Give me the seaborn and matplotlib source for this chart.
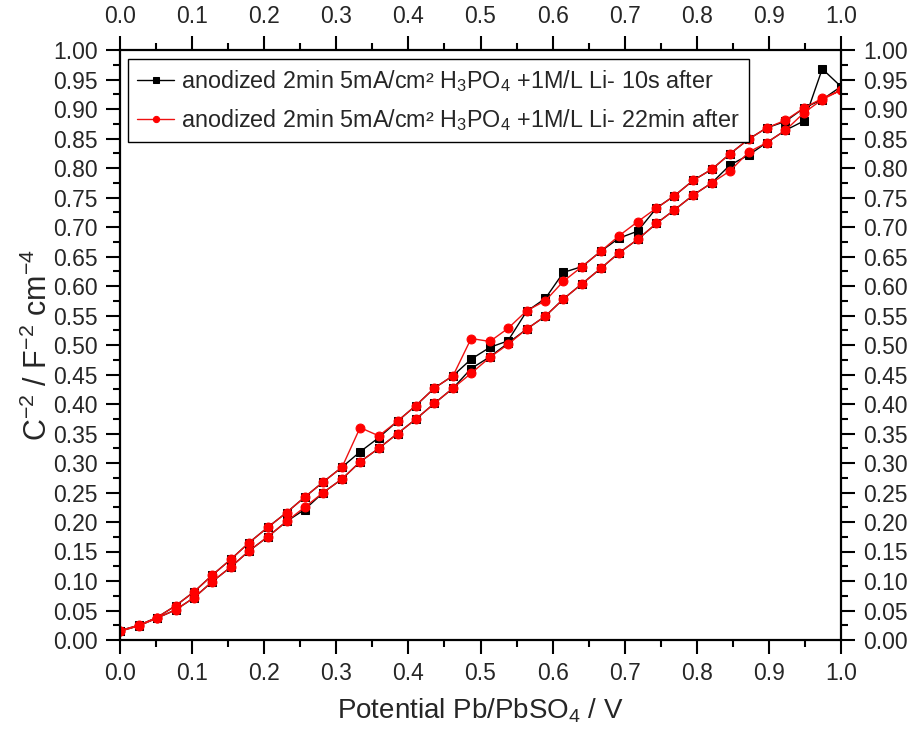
import numpy as np
import pandas as pd
import matplotlib
matplotlib.use("Agg")
import matplotlib.pyplot as plt
import seaborn as sns
from matplotlib.ticker import MultipleLocator, FormatStrFormatter

# ---------------- data ----------------
# potential on the forward (lower) branch, 0 -> 1 V
x_fwd = [0.000, 0.026, 0.051, 0.077, 0.103, 0.128, 0.154, 0.179, 0.205, 0.231,
         0.256, 0.282, 0.308, 0.333, 0.359, 0.385, 0.410, 0.436, 0.462, 0.487,
         0.513, 0.538, 0.564, 0.590, 0.615, 0.641, 0.667, 0.692, 0.718, 0.744,
         0.769, 0.795, 0.821, 0.846, 0.872, 0.897, 0.923, 0.949, 0.974, 1.000]
# potential on the backward (upper) branch, 1 -> 0 V
x_bwd = [0.974, 0.949, 0.923, 0.897, 0.872, 0.846, 0.821, 0.795, 0.769, 0.744,
         0.718, 0.692, 0.667, 0.641, 0.615, 0.590, 0.564, 0.538, 0.513, 0.487,
         0.462, 0.436, 0.410, 0.385, 0.359, 0.333, 0.308, 0.282, 0.256, 0.231,
         0.205, 0.179, 0.154, 0.128, 0.103, 0.077, 0.051, 0.026, 0.000]

# series "10s after" (black squares)
y10_fwd = [0.015, 0.024, 0.037, 0.051, 0.072, 0.099, 0.124, 0.151, 0.175, 0.201,
           0.221, 0.250, 0.273, 0.302, 0.325, 0.350, 0.374, 0.401, 0.427, 0.460,
           0.480, 0.503, 0.527, 0.549, 0.578, 0.604, 0.630, 0.656, 0.679, 0.706,
           0.729, 0.754, 0.775, 0.805, 0.822, 0.843, 0.864, 0.880, 0.968, 0.938]
y10_bwd = [0.916, 0.902, 0.879, 0.868, 0.849, 0.824, 0.798, 0.779, 0.753, 0.732,
           0.693, 0.681, 0.659, 0.633, 0.623, 0.579, 0.557, 0.507, 0.496, 0.476,
           0.448, 0.427, 0.397, 0.371, 0.343, 0.319, 0.293, 0.268, 0.242, 0.216,
           0.191, 0.165, 0.137, 0.110, 0.082, 0.058, 0.038, 0.025, 0.016]

# series "22min after" (red circles)
y22_fwd = [0.015, 0.024, 0.037, 0.051, 0.072, 0.099, 0.124, 0.151, 0.175, 0.201,
           0.225, 0.250, 0.273, 0.302, 0.325, 0.350, 0.374, 0.401, 0.427, 0.452,
           0.479, 0.501, 0.527, 0.549, 0.578, 0.604, 0.630, 0.656, 0.679, 0.706,
           0.729, 0.754, 0.775, 0.795, 0.827, 0.843, 0.864, 0.894, 0.916, 0.932]
y22_bwd = [0.918, 0.902, 0.881, 0.868, 0.849, 0.824, 0.798, 0.779, 0.753, 0.732,
           0.709, 0.685, 0.659, 0.633, 0.608, 0.575, 0.558, 0.528, 0.506, 0.511,
           0.448, 0.427, 0.397, 0.371, 0.346, 0.360, 0.293, 0.268, 0.242, 0.216,
           0.191, 0.165, 0.137, 0.110, 0.082, 0.058, 0.038, 0.025, 0.016]

label10 = "anodized 2min 5mA/cm² H$_3$PO$_4$ +1M/L Li- 10s after"
label22 = "anodized 2min 5mA/cm² H$_3$PO$_4$ +1M/L Li- 22min after"
x_ticks = [0.0, 0.1, 0.2, 0.3, 0.4, 0.5, 0.6, 0.7, 0.8, 0.9, 1.0]

# ---------------- style ----------------
sns.set_style("ticks")
plt.rcParams["font.family"] = ["Liberation Sans", "DejaVu Sans"]
plt.rcParams["mathtext.fontset"] = "custom"
plt.rcParams["mathtext.rm"] = "Liberation Sans"
plt.rcParams["mathtext.it"] = "Liberation Sans:italic"
plt.rcParams["mathtext.bf"] = "Liberation Sans:bold"
plt.rcParams["mathtext.default"] = "regular"

df10 = pd.DataFrame({"x": x_fwd + x_bwd, "y": y10_fwd + y10_bwd})
df22 = pd.DataFrame({"x": x_fwd + x_bwd, "y": y22_fwd + y22_bwd})

fig = plt.figure(figsize=(9.14, 7.41), dpi=100)
ax = fig.add_axes([120 / 914, 1 - 640 / 741, 721 / 914, 590 / 741])

sns.lineplot(data=df10, x="x", y="y", sort=False, estimator=None, ax=ax,
             color="black", linewidth=1.0, marker="s", markersize=5.8,
             markeredgecolor="black", markerfacecolor="black", label=label10)
sns.lineplot(data=df22, x="x", y="y", sort=False, estimator=None, ax=ax,
             color="#ee1111", linewidth=1.0, marker="o", markersize=6.4,
             markeredgecolor="#ff0000", markerfacecolor="#ff0000", label=label22)

ax.set_xlim(0, 1)
ax.set_ylim(0, 1)
ax.set_xticks(x_ticks)
ax.xaxis.set_minor_locator(MultipleLocator(0.05))
ax.yaxis.set_major_locator(MultipleLocator(0.05))
ax.yaxis.set_minor_locator(MultipleLocator(0.025))
ax.xaxis.set_major_formatter(FormatStrFormatter("%.1f"))
ax.yaxis.set_major_formatter(FormatStrFormatter("%.2f"))

for sp in ax.spines.values():
    sp.set_visible(True)
    sp.set_linewidth(1.6)
    sp.set_color("black")

ax.tick_params(which="both", direction="out", top=True, right=True,
               labeltop=True, labelright=True, color="black", width=1.5)
ax.tick_params(which="major", length=10, labelsize=16.5, pad=6)
ax.tick_params(which="minor", length=5)

ax.set_xlabel("Potential Pb/PbSO$_4$ / V", fontsize=20, labelpad=8)
ax.set_ylabel("C$^{-2}$ / F$^{-2}$ cm$^{-4}$", fontsize=22)
ax.yaxis.set_label_coords(-0.092, 0.5)

leg = ax.legend(loc="upper left", bbox_to_anchor=(0.004, 0.993), fontsize=16.8,
                frameon=True, fancybox=False, edgecolor="black",
                borderpad=0.4, labelspacing=0.55, handlelength=1.6,
                handletextpad=0.3, markerscale=0.7, borderaxespad=0.2)
leg.get_frame().set_linewidth(1.0)
leg.get_frame().set_alpha(1)

fig.savefig("out.png", dpi=100)
